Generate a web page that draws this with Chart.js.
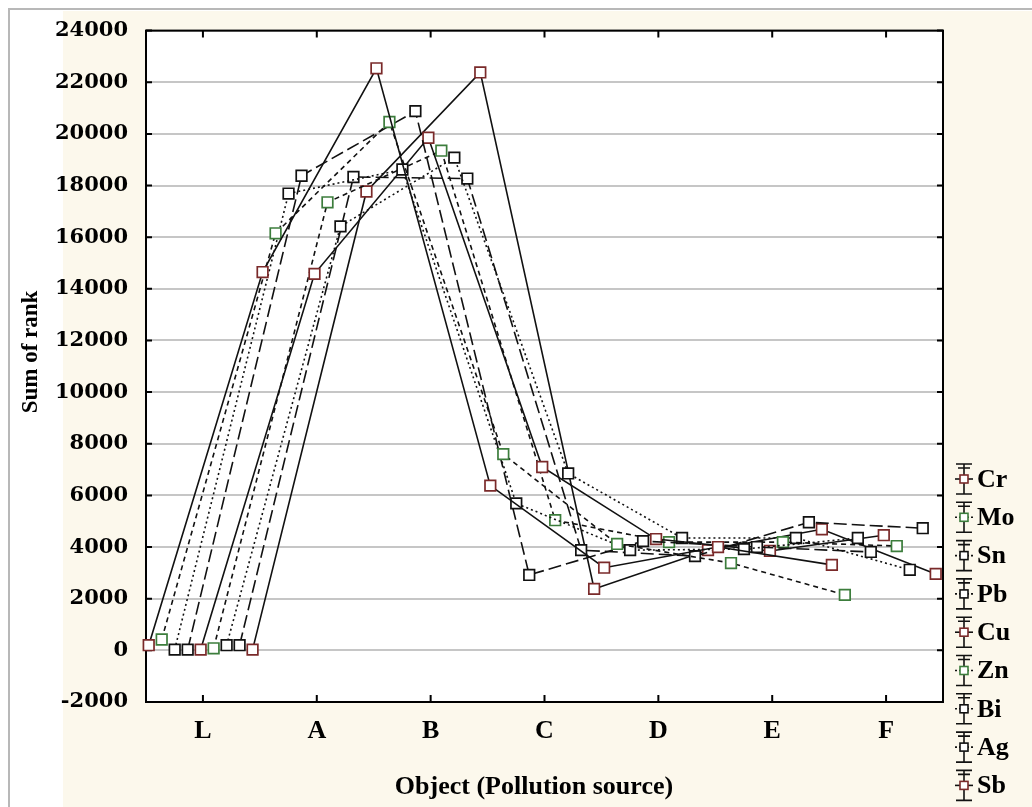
<!DOCTYPE html>
<html>
<head>
<meta charset="utf-8">
<title>Sum of rank by pollution source</title>
<script src="https://cdn.jsdelivr.net/npm/chart.js@4/dist/chart.umd.min.js"></script>
<style>
  html, body { margin: 0; padding: 0; background: #fff; }
  #wrap { width: 1032px; height: 807px; position: relative; }
</style>
</head>
<body>
<div id="wrap"><canvas id="rankChart"></canvas></div>
<script>
// categories on the x axis (objects / pollution sources)
const categories = ['L', 'A', 'B', 'C', 'D', 'E', 'F'];
const elements = ['Cr', 'Mo', 'Sn', 'Pb', 'Cu', 'Zn', 'Bi', 'Ag', 'Sb'];
const yTicks = [-2000, 0, 2000, 4000, 6000, 8000, 10000, 12000, 14000, 16000, 18000, 20000, 22000, 24000];

// sum of rank per element, one value per category (L..F)
const cr = [200, 14650, 22540, 6380, 3200, 4000, 3310];
const mo = [420, 16150, 20460, 7600, 4120, 3380, 2150];
const sn = [30, 17690, 18620, 5690, 3880, 3920, 4350];
const pb = [30, 18380, 20880, 2920, 4230, 4000, 3810];
const cu = [30, 14580, 19850, 7100, 4310, 3850, 4460];
const zn = [80, 17350, 19350, 5040, 4190, 4190, 4040];
const bi = [200, 16420, 19080, 6850, 4350, 4350, 3120];
const ag = [200, 18330, 18270, 3880, 3650, 4960, 4730];
const sb = [30, 17770, 22380, 2380, 3880, 4690, 2960];

const seriesValues = [cr, mo, sn, pb, cu, zn, bi, ag, sb];

// styling per series
const markerColors = ['#7a2a2a', '#3c7d3c', '#111', '#111', '#7a2a2a', '#3c7d3c', '#111', '#111', '#7a2a2a'];
const dashes = [[], [5, 4], [2, 3], [13, 5], [], [5, 4], [2, 3], [13, 5], []];

const spread = 0.114; // horizontal shift between elements inside a category

const datasets = elements.map((name, i) => ({
  label: name,
  data: seriesValues[i].map((v, k) => ({ x: k + (i - 4) * spread - 0.02, y: v })),
  borderColor: '#111',
  borderWidth: 1.6,
  borderDash: dashes[i],
  pointStyle: 'rect',
  pointRadius: 7.5,
  pointBorderWidth: 1.7,
  pointBorderColor: markerColors[i],
  pointBackgroundColor: '#fff',
  tension: 0,
  clip: false
}));

const SERIF = "'Liberation Serif', 'Times New Roman', serif";

const decor = {
  id: 'decor',
  beforeDraw(chart) {
    const ctx = chart.ctx;
    const a = chart.chartArea;
    ctx.save();
    ctx.fillStyle = '#fff';
    ctx.fillRect(0, 0, chart.width, chart.height);
    ctx.fillStyle = '#fcf8ec';
    ctx.fillRect(63, 11, chart.width - 63, chart.height - 11);
    ctx.strokeStyle = '#b8b8b8';
    ctx.lineWidth = 2;
    ctx.beginPath();
    ctx.moveTo(9, chart.height);
    ctx.lineTo(9, 9);
    ctx.lineTo(chart.width, 9);
    ctx.stroke();
    ctx.fillStyle = '#fff';
    ctx.fillRect(a.left, a.top, a.right - a.left, a.bottom - a.top);
    ctx.restore();
  },
  beforeDatasetsDraw(chart) {
    const ctx = chart.ctx;
    const a = chart.chartArea;
    const xs = chart.scales.x;
    const ys = chart.scales.y;
    ctx.save();
    ctx.strokeStyle = '#000';
    ctx.lineWidth = 2;
    ctx.strokeRect(a.left, a.top, a.right - a.left, a.bottom - a.top);
    ctx.beginPath();
    categories.forEach((c, k) => {
      const px = xs.getPixelForValue(k);
      ctx.moveTo(px, a.bottom); ctx.lineTo(px, a.bottom - 7);
      ctx.moveTo(px, a.top); ctx.lineTo(px, a.top + 7);
    });
    yTicks.forEach(v => {
      const py = ys.getPixelForValue(v);
      ctx.moveTo(a.left, py); ctx.lineTo(a.left + 6, py);
      ctx.moveTo(a.right, py); ctx.lineTo(a.right - 6, py);
    });
    ctx.stroke();
    ctx.restore();
  },
  afterDraw(chart) {
    const ctx = chart.ctx;
    ctx.save();
    ctx.fillStyle = '#000';
    // axis titles
    ctx.font = 'bold 26px ' + SERIF;
    ctx.textAlign = 'center';
    ctx.textBaseline = 'middle';
    ctx.fillText('Object (Pollution source)', 534, 787);
    ctx.save();
    ctx.translate(31, 352);
    ctx.rotate(-Math.PI / 2);
    ctx.font = 'bold 23px ' + SERIF;
    ctx.fillText('Sum of rank', 0, 0);
    ctx.restore();

    // legend with whisker icons
    elements.forEach((name, i) => {
      const cy = 479 + i * 38.3;
      const cx = 964;
      ctx.strokeStyle = '#111';
      ctx.lineWidth = 1.6;
      ctx.setLineDash([]);
      ctx.beginPath();
      ctx.moveTo(cx, cy - 15); ctx.lineTo(cx, cy + 15);
      ctx.moveTo(cx - 8, cy - 15); ctx.lineTo(cx + 8, cy - 15);
      ctx.moveTo(cx - 6, cy - 11); ctx.lineTo(cx + 6, cy - 11);
      ctx.moveTo(cx - 8, cy + 15); ctx.lineTo(cx + 8, cy + 15);
      ctx.stroke();
      ctx.setLineDash(dashes[i].length ? [2, 2] : []);
      ctx.beginPath();
      ctx.moveTo(cx - 9, cy); ctx.lineTo(cx + 9, cy);
      ctx.stroke();
      ctx.setLineDash([]);
      ctx.fillStyle = '#fff';
      ctx.fillRect(cx - 4, cy - 4, 8, 8);
      ctx.strokeStyle = markerColors[i];
      ctx.strokeRect(cx - 4, cy - 4, 8, 8);
      ctx.fillStyle = '#000';
      ctx.font = 'bold 26px ' + SERIF;
      ctx.textAlign = 'left';
      ctx.textBaseline = 'middle';
      ctx.fillText(name, 977, cy + 1);
    });
    ctx.restore();
  }
};

new Chart(document.getElementById('rankChart'), {
  type: 'line',
  data: { datasets },
  options: {
    responsive: true,
    maintainAspectRatio: false,
    animation: false,
    layout: { padding: { left: 0, right: 89, top: 24, bottom: 0 } },
    plugins: {
      legend: { display: false },
      tooltip: { enabled: false }
    },
    scales: {
      x: {
        type: 'linear',
        min: -0.5,
        max: 6.5,
        afterBuildTicks: s => { s.ticks = categories.map((c, k) => ({ value: k })); },
        afterFit: s => { s.height = 105; },
        ticks: {
          callback: v => categories[v] ?? '',
          color: '#000',
          padding: 14,
          autoSkip: false,
          maxRotation: 0,
          font: { family: SERIF, size: 26, weight: 'bold' }
        },
        grid: { display: false, drawTicks: false },
        border: { display: false }
      },
      y: {
        min: -2000,
        max: 24000,
        afterBuildTicks: s => { s.ticks = yTicks.map(v => ({ value: v })); },
        afterFit: s => { s.width = 146; },
        ticks: {
          callback: v => String(v),
          color: '#000',
          padding: 18,
          font: { family: "'DejaVu Serif', serif", size: 21, weight: 'bold' }
        },
        grid: { color: '#c6c6c6', lineWidth: 2, drawTicks: false },
        border: { display: false }
      }
    }
  },
  plugins: [decor]
});
</script>
</body>
</html>
